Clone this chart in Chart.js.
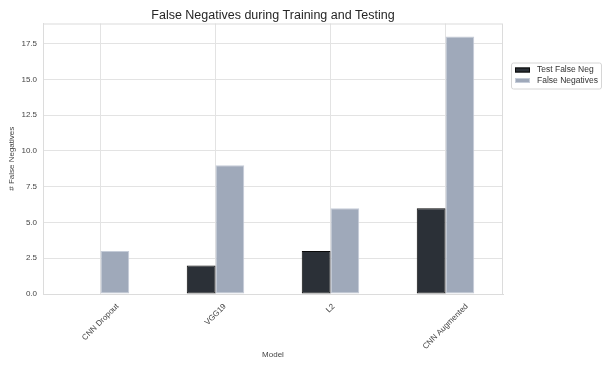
<!DOCTYPE html>
<html>
<head>
<meta charset="utf-8">
<script src="https://cdn.jsdelivr.net/npm/chart.js@4"></script>
<style>
    html, body { margin: 0; padding: 0; background: #ffffff; }
    #wrap { width: 605px; height: 368px; position: relative; }
</style>
</head>
<body>
<div id="wrap"><canvas id="fnChart"></canvas></div>
<script>
// Data
const models = ["CNN Dropout", "VGG19", "L2", "CNN Augmented"];
const testFalseNeg = [0, 2, 3, 6];
const falseNegatives = [3, 9, 6, 18];
const yTicks = [0, 2.5, 5, 7.5, 10, 12.5, 15, 17.5];

const FONT = "'Liberation Sans', Arial, sans-serif";
const TICK_FONT = "8px " + FONT;

// Full box around the plot (all four spines)
const plotFrame = {
    id: "plotFrame",
    beforeDatasetsDraw(chart) {
        const { ctx, chartArea: a } = chart;
        ctx.save();
        ctx.strokeStyle = "#dcdcdc";
        ctx.lineWidth = 1;
        ctx.strokeRect(a.left + 0.5, a.top + 0.5, a.right - a.left - 1, a.bottom - a.top);
        ctx.restore();
    },
};

// Rotated x labels, centred under each tick like matplotlib (rotation=45)
const centredXLabels = {
    id: "centredXLabels",
    afterDraw(chart) {
        const { ctx, chartArea: a } = chart;
        const xScale = chart.scales.x;
        ctx.save();
        ctx.font = TICK_FONT;
        ctx.fillStyle = "#444444";
        ctx.textAlign = "center";
        ctx.textBaseline = "middle";
        const h = 9;
        xScale.ticks.forEach((t, i) => {
            const label = chart.data.labels[i];
            const w = ctx.measureText(label).width;
            const half = ((w + h) * Math.SQRT1_2) / 2;
            const cx = xScale.getPixelForTick(i);
            const cy = a.bottom + 8 + half;
            ctx.save();
            ctx.translate(cx, cy);
            ctx.rotate(-Math.PI / 4);
            ctx.fillText(label, 0, 0);
            ctx.restore();
        });
        ctx.restore();
    },
};

// Legend box outside the plot, top right
const boxLegend = {
    id: "boxLegend",
    afterDraw(chart) {
        const ctx = chart.ctx;
        const area = chart.chartArea;
        const x = area.right + 8, y = area.top + 39, w = 90, h = 26;
        ctx.save();
        ctx.fillStyle = "rgba(255,255,255,0.8)";
        ctx.strokeStyle = "#d6d6d6";
        ctx.lineWidth = 1;
        ctx.beginPath();
        ctx.roundRect(x + 0.5, y + 0.5, w, h, 2);
        ctx.fill();
        ctx.stroke();
        ctx.font = "8.5px " + FONT;
        ctx.textBaseline = "middle";
        chart.data.datasets.forEach((ds, i) => {
            const rowY = y + 7.5 + i * 10.5;
            ctx.fillStyle = ds.backgroundColor;
            ctx.fillRect(x + 4, rowY - 2.5, 15, 5);
            ctx.strokeStyle = ds.borderColor;
            ctx.strokeRect(x + 4.5, rowY - 2, 14, 4);
            ctx.fillStyle = "#333333";
            ctx.fillText(ds.label, x + 26, rowY);
        });
        ctx.restore();
    },
};

new Chart(document.getElementById("fnChart"), {
    type: "bar",
    data: {
        labels: models,
        datasets: [
            {
                label: "Test False Neg",
                data: testFalseNeg,
                backgroundColor: "#2b3037",
                borderColor: "#0a0a0a",
                borderWidth: 1,
                borderSkipped: false,
                categoryPercentage: 0.5,
                barPercentage: 1.0,
            },
            {
                label: "False Negatives",
                data: falseNegatives,
                backgroundColor: "#9fa9ba",
                borderColor: "#c5ccd8",
                borderWidth: 1,
                borderSkipped: false,
                categoryPercentage: 0.5,
                barPercentage: 1.0,
            },
        ],
    },
    options: {
        responsive: true,
        maintainAspectRatio: false,
        animation: false,
        layout: { padding: { left: 0, right: 102, top: 0, bottom: 0 } },
        plugins: {
            legend: { display: false },
            tooltip: { enabled: false },
            title: {
                display: true,
                fullSize: false,
                text: "False Negatives during Training and Testing",
                color: "#262626",
                font: { family: FONT, size: 12.5, weight: "normal" },
                padding: { top: 8, bottom: 0.5 },
            },
        },
        scales: {
            x: {
                grid: { color: "#e3e3e3", offset: false, drawTicks: false },
                border: { color: "#dcdcdc" },
                ticks: { display: false },
                title: {
                    display: true,
                    text: "Model",
                    color: "#444444",
                    font: { family: FONT, size: 8 },
                    padding: { top: 4, bottom: 8 },
                },
                afterFit(scale) { scale.height = 74; },
            },
            y: {
                min: 0,
                max: 18.9,
                grid: { color: "#e3e3e3", drawTicks: false },
                border: { color: "#dcdcdc" },
                afterBuildTicks(scale) {
                    scale.ticks = yTicks.map((v) => ({ value: v }));
                },
                ticks: {
                    color: "#444444",
                    font: { family: FONT, size: 8 },
                    padding: 6,
                    callback: (v) => v.toFixed(1),
                },
                title: {
                    display: true,
                    text: "# False Negatives",
                    color: "#444444",
                    font: { family: FONT, size: 8 },
                    padding: { top: 7, bottom: 0 },
                },
                afterFit(scale) { scale.width = 43; },
            },
        },
    },
    plugins: [plotFrame, centredXLabels, boxLegend],
});
</script>
</body>
</html>
